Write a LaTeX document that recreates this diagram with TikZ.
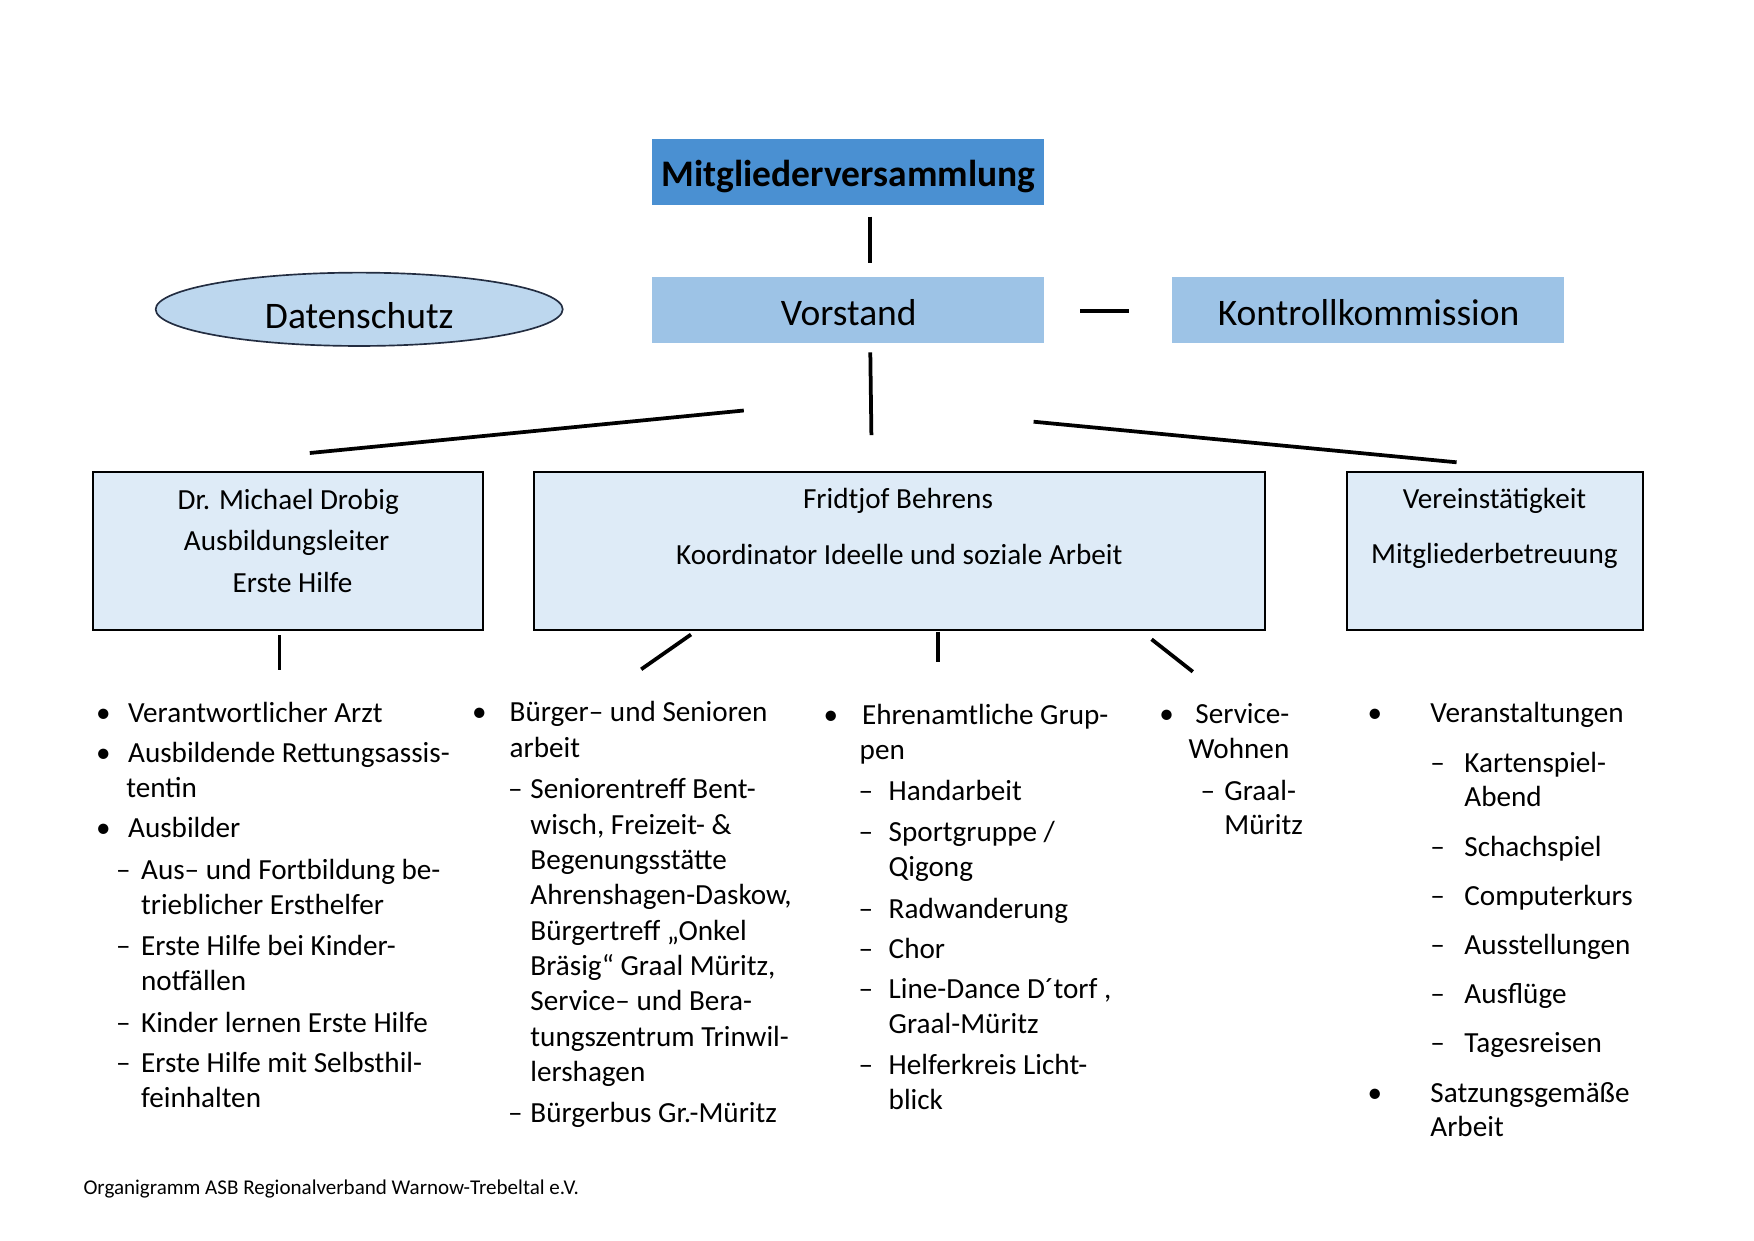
\documentclass[tikz,border=0pt]{standalone}
\usepackage{fontspec}
\setmainfont{Carlito}
\usetikzlibrary{shapes.geometric,fit}
\definecolor{mvblue}{RGB}{74,144,210}
\definecolor{vsblue}{RGB}{157,195,230}
\definecolor{ellblue}{RGB}{189,215,238}
\definecolor{boxfill}{RGB}{222,235,247}
\definecolor{ellline}{RGB}{35,45,65}
\begin{document}
\begin{tikzpicture}[x=0.480046pt,y=-0.480046pt,
  conn/.style={line width=1.8pt},
  box/.style={draw=black, line width=1pt, fill=boxfill, inner sep=0pt},
  topbox/.style={inner sep=0pt},
  txt/.style={anchor=base, inner sep=0pt, font=\fontsize{14}{16}\selectfont},
  big/.style={anchor=base, inner sep=0pt, font=\fontsize{18}{20}\selectfont},
  ltxt/.style={anchor=base west, inner sep=0pt, yshift=-1.4pt, font=\fontsize{14}{16}\selectfont},
  bul/.style={anchor=base, inner sep=0pt, yshift=-1.4pt, font=\fontsize{14}{16}\selectfont},
  dsh/.style={anchor=base, inner sep=0pt, yshift=-1.4pt, font=\fontsize{14}{16}\selectfont},
]
\useasboundingbox (0,0) rectangle (1754,1240);

% top boxes
\node[topbox, fill=mvblue, fit={(652,139) (1044,205)}] (mv) {};
\node[big, font=\fontsize{18}{20}\selectfont\bfseries] (mvt) at (848.5,186) {Mitgliederversammlung};
\node[topbox, fill=vsblue, fit={(652,277) (1044,342.7)}] (vs) {};
\node[big] (vst) at (848.8,325) {Vorstand};
\node[topbox, fill=vsblue, fit={(1172,277) (1563.8,342.7)}] (kk) {};
\node[big] (kkt) at (1368.6,325) {Kontrollkommission};
\node[draw=ellline, line width=0.8pt, fill=ellblue, ellipse, inner sep=0pt,
      minimum width=195.4pt, minimum height=35.2pt] (ds) at (359.2,309.3) {};
\node[big] (dst) at (359.2,328.3) {Datenschutz};

% second level boxes
\node[box, fit={(93.3,471.7) (483,630)}] (dr) {};
\node[txt] (dr1) at (288.3,509.5) {Dr. Michael Drobig};
\node[txt] (dr2) at (286.7,550.6) {Ausbildungsleiter};
\node[txt] (dr3) at (292.5,592.7) {Erste Hilfe};
\node[box, fit={(533.6,472.3) (1265,630)}] (fb) {};
\node[txt] (fb1) at (898,508.3) {Fridtjof Behrens};
\node[txt] (fb2) at (899.3,564.3) {Koordinator Ideelle und soziale Arbeit};
\node[box, fit={(1346.7,472.3) (1643.3,630)}] (vt) {};
\node[txt] (vt1) at (1494.5,508.5) {Vereinstätigkeit};
\node[txt] (vt2) at (1494.3,563) {Mitgliederbetreuung};

% connector end points
\coordinate (a1) at (869.8,216.7); \coordinate (a2) at (869.8,263.3);
\coordinate (b1) at (1080.3,310.7); \coordinate (b2) at (1128.9,310.7);
\coordinate (c1) at (870.3,352.3); \coordinate (c2) at (871.4,435.1);
\coordinate (d1) at (309.8,453); \coordinate (d2) at (743.8,410.5);
\coordinate (e1) at (1033.6,421.7); \coordinate (e2) at (1456.6,462.3);
\coordinate (f1) at (279.6,635.3); \coordinate (f2) at (279.6,670);
\coordinate (g1) at (691,634.5); \coordinate (g2) at (641.2,669.3);
\coordinate (h1) at (937.8,631.7); \coordinate (h2) at (937.8,662.3);
\coordinate (i1) at (1151.6,639.3); \coordinate (i2) at (1192.8,671.7);
\draw[conn] (a1) -- (a2);
\draw[conn] (b1) -- (b2);
\draw[conn] (c1) -- (c2);
\draw[conn] (d1) -- (d2);
\draw[conn] (e1) -- (e2);
\draw[conn] (f1) -- (f2);
\draw[conn] (g1) -- (g2);
\draw[conn] (h1) -- (h2);
\draw[conn] (i1) -- (i2);

% column 1
\node[bul] (b11) at (103.3,720) {•};
\node[ltxt] (t11) at (127.7,720) {Verantwortlicher Arzt};
\node[bul] (b12) at (103.3,759.5) {•};
\node[ltxt] (t12) at (127.7,759.5) {Ausbildende Rettungsassis-};
\node[ltxt] (t12b) at (126,795) {tentin};
\node[bul] (b13) at (103.3,834.5) {•};
\node[ltxt] (t13) at (127.7,834.5) {Ausbilder};
\node[dsh] (d11) at (123.3,876.5) {–};
\node[ltxt] (s11) at (140.7,876.5) {Aus– und Fortbildung be-};
\node[ltxt] (s11b) at (140.7,911.5) {trieblicher Ersthelfer};
\node[dsh] (d12) at (123.3,952.5) {–};
\node[ltxt] (s12) at (140.7,952.5) {Erste Hilfe bei Kinder-};
\node[ltxt] (s12b) at (140.7,987.5) {notfällen};
\node[dsh] (d13) at (123.3,1029.5) {–};
\node[ltxt] (s13) at (140.7,1029.5) {Kinder lernen Erste Hilfe};
\node[dsh] (d14) at (123.3,1069.5) {–};
\node[ltxt] (s14) at (140.7,1069.5) {Erste Hilfe mit Selbsthil-};
\node[ltxt] (s14b) at (140.7,1104.5) {feinhalten};

% column 2
\node[bul] (b21) at (479.3,719) {•};
\node[ltxt] (t21) at (509.3,719) {Bürger– und Senioren};
\node[ltxt] (t21b) at (509.3,754.5) {arbeit};
\node[dsh] (d21) at (515.5,796) {–};
\node[ltxt] (s21a) at (530,796) {Seniorentreff Bent-};
\node[ltxt] (s21b) at (530,831.3) {wisch, Freizeit- \&};
\node[ltxt] (s21c) at (530,866.6) {Begenungsstätte};
\node[ltxt] (s21d) at (530,901.9) {Ahrenshagen-Daskow,};
\node[ltxt] (s21e) at (530,937.2) {Bürgertreff „Onkel};
\node[ltxt] (s21f) at (530,972.5) {Bräsig“ Graal Müritz,};
\node[ltxt] (s21g) at (530,1007.8) {Service– und Bera-};
\node[ltxt] (s21h) at (530,1043.1) {tungszentrum Trinwil-};
\node[ltxt] (s21i) at (530,1078.4) {lershagen};
\node[dsh] (d22) at (515.5,1120) {–};
\node[ltxt] (s22) at (530,1120) {Bürgerbus Gr.-Müritz};

% column 3
\node[bul] (b31) at (831,721.7) {•};
\node[ltxt] (t31) at (861.7,721.7) {Ehrenamtliche Grup-};
\node[ltxt] (t31b) at (859.3,756.7) {pen};
\node[dsh] (d31) at (866,797.3) {–};
\node[ltxt] (s31) at (888.3,797.3) {Handarbeit};
\node[dsh] (d32) at (866,838.3) {–};
\node[ltxt] (s32) at (888.3,838.3) {Sportgruppe /};
\node[ltxt] (s32b) at (888.3,873.3) {Qigong};
\node[dsh] (d33) at (866,916) {–};
\node[ltxt] (s33) at (888.3,916) {Radwanderung};
\node[dsh] (d34) at (866,956) {–};
\node[ltxt] (s34) at (888.3,956) {Chor};
\node[dsh] (d35) at (866,996) {–};
\node[ltxt] (s35) at (888.3,996) {Line-Dance D´torf ,};
\node[ltxt] (s35b) at (888.3,1030.7) {Graal-Müritz};
\node[dsh] (d36) at (866,1071.7) {–};
\node[ltxt] (s36) at (888.3,1071.7) {Helferkreis Licht-};
\node[ltxt] (s36b) at (888.3,1106.7) {blick};

% column 4
\node[bul] (b41) at (1166.7,720.7) {•};
\node[ltxt] (t41) at (1195,720.7) {Service-};
\node[ltxt] (t41b) at (1188.3,755.7) {Wohnen};
\node[dsh] (d41) at (1208,797.3) {–};
\node[ltxt] (s41) at (1224,797.3) {Graal-};
\node[ltxt] (s41b) at (1224,831.7) {Müritz};

% column 5
\node[bul] (b51) at (1375,720) {•};
\node[ltxt] (t51) at (1430,720) {Veranstaltungen};
\node[dsh] (d51) at (1437.5,770) {–};
\node[ltxt] (s51) at (1464,770) {Kartenspiel-};
\node[ltxt] (s51b) at (1464,804) {Abend};
\node[dsh] (d52) at (1437.5,854) {–};
\node[ltxt] (s52) at (1464,854) {Schachspiel};
\node[dsh] (d53) at (1437.5,903) {–};
\node[ltxt] (s53) at (1464,903) {Computerkurs};
\node[dsh] (d54) at (1437.5,952) {–};
\node[ltxt] (s54) at (1464,952) {Ausstellungen};
\node[dsh] (d55) at (1437.5,1001) {–};
\node[ltxt] (s55) at (1464,1001) {Ausflüge};
\node[dsh] (d56) at (1437.5,1050) {–};
\node[ltxt] (s56) at (1464,1050) {Tagesreisen};
\node[bul] (b52) at (1375,1099.3) {•};
\node[ltxt] (t52) at (1430,1099.3) {Satzungsgemäße};
\node[ltxt] (t52b) at (1430,1134) {Arbeit};

% footer
\node[anchor=base west, inner sep=0pt, font=\fontsize{10.1}{12}\selectfont] (ft) at (83.1,1194) {Organigramm ASB Regionalverband Warnow-Trebeltal e.V.};
\end{tikzpicture}
\end{document}
